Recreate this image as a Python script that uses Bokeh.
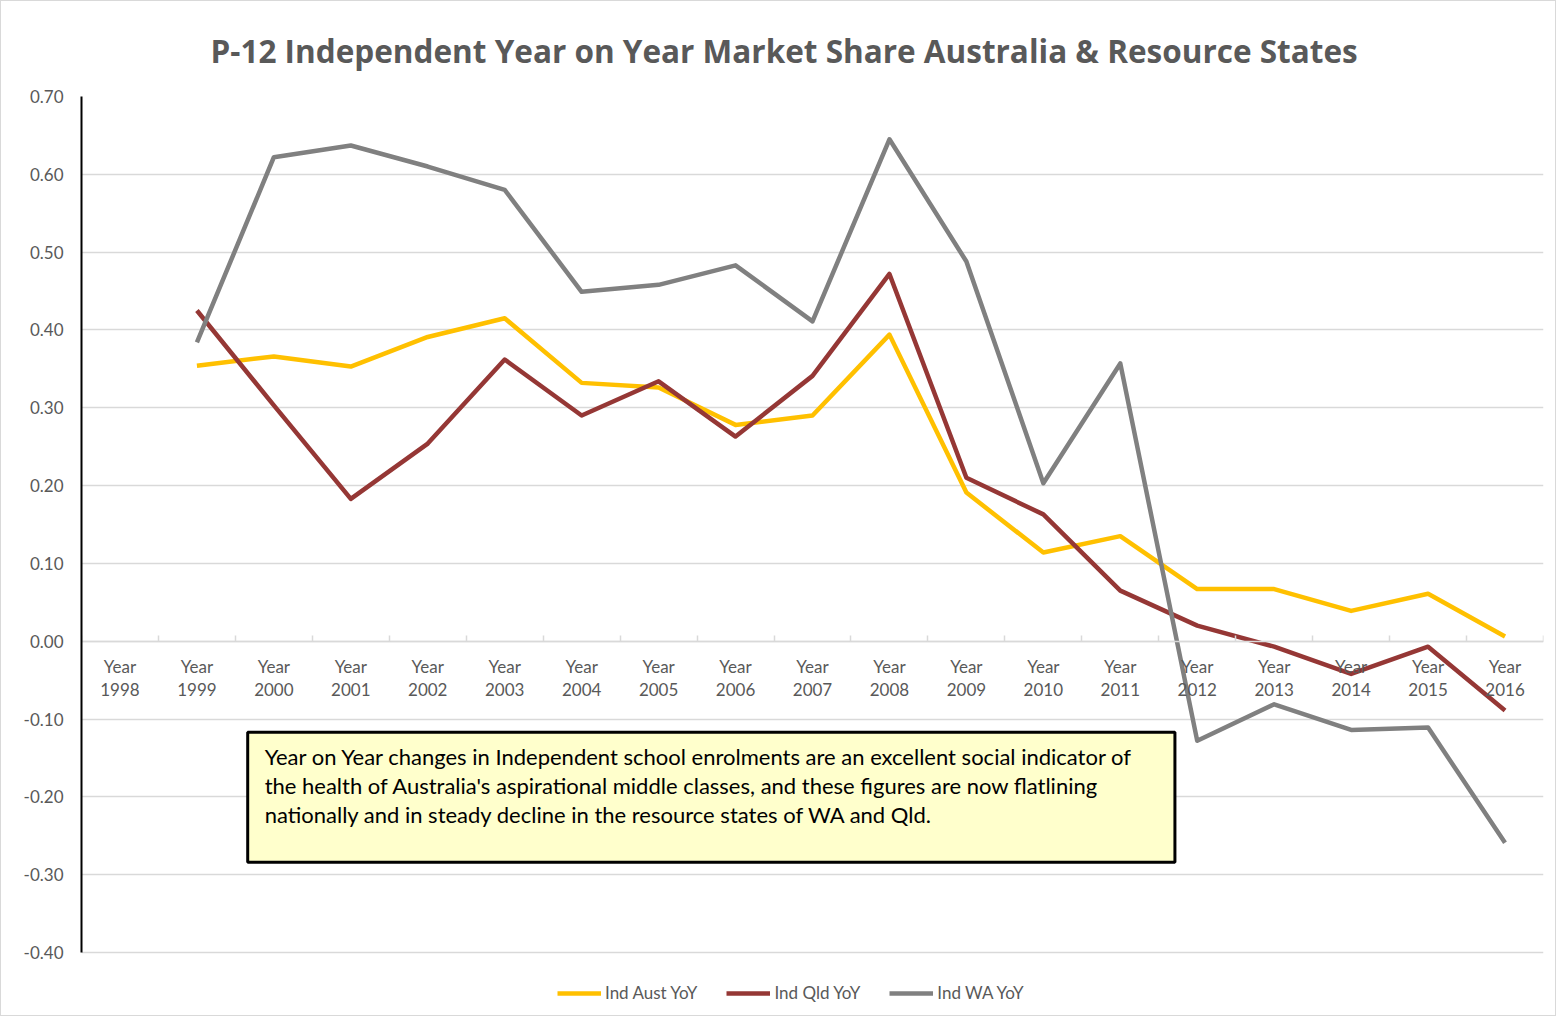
from bokeh.plotting import figure
from bokeh.models import (FixedTicker, Legend, LegendItem, BoxAnnotation, Label,
                          Range1d, NumeralTickFormatter, ColumnDataSource)
from bokeh.embed import file_html
from bokeh.resources import INLINE

# ---------------- data ----------------
years = [str(y) for y in range(1998, 2017)]
categories = ["Year " + y for y in years]
series_years = years[1:]  # 1999 .. 2016

ind_aust = [0.354, 0.366, 0.353, 0.391, 0.415, 0.332, 0.326, 0.278, 0.290,
            0.394, 0.191, 0.114, 0.135, 0.067, 0.067, 0.039, 0.061, 0.006]
ind_qld = [0.425, 0.303, 0.183, 0.254, 0.362, 0.290, 0.334, 0.263, 0.341,
           0.472, 0.210, 0.163, 0.065, 0.020, -0.007, -0.042, -0.007, -0.089]
ind_wa = [0.384, 0.622, 0.637, 0.610, 0.580, 0.449, 0.458, 0.483, 0.411,
          0.645, 0.488, 0.203, 0.357, -0.128, -0.081, -0.114, -0.111, -0.259]

series_names = ["Ind Aust YoY", "Ind Qld YoY", "Ind WA YoY"]
series_colors = ["#FFC000", "#953735", "#808080"]
y_ticks = [-0.4, -0.3, -0.2, -0.1, 0.0, 0.1, 0.2, 0.3, 0.4, 0.5, 0.6, 0.7]
y_min, y_max = -0.4, 0.7

title_text = "P-12 Independent Year on Year Market Share Australia & Resource States"
note_text = ("Year on Year changes in Independent school enrolments are an excellent social indicator of\n"
             "the health of Australia's aspirational middle classes, and these figures are now flatlining\n"
             "nationally and in steady decline in the resource states of WA and Qld.")

FONT = "Lato"
GRAY_TXT = "#595959"
GRID = "#d9d9d9"

x_idx = [categories.index("Year " + y) for y in series_years]

# the frame reaches below the value axis to hold the legend; the axis itself
# is bounded to [y_min, y_max]
px_per_unit = 856 / (y_max - y_min)
y_start = y_min - 60 / px_per_unit

p = figure(width=1556, height=1016, output_backend="svg", toolbar_location=None,
           x_range=Range1d(-0.5, len(categories) - 0.5), y_range=Range1d(y_start, y_max),
           min_border_left=80, min_border_right=14, min_border_top=95, min_border_bottom=5)
p.styles = {"border": "1px solid #d9d9d9"}
p.outline_line_color = None

# title
p.title.text = title_text
p.title.align = "left"
p.title.offset = 129
p.title.text_font = "Open Sans"
p.title.text_font_size = "31.5px"
p.title.text_font_style = "bold"
p.title.text_color = GRAY_TXT
p.title.standoff = 50

# x axis (categories, crossing at zero)
xa = p.xaxis[0]
xa.ticker = FixedTicker(ticks=list(range(len(categories))),
                        minor_ticks=[i - 0.5 for i in range(len(categories) + 1)])
xa.major_label_overrides = {i: c.replace(" ", "\n") for i, c in enumerate(categories)}
xa.fixed_location = 0
xa.axis_line_color = GRID
xa.axis_line_width = 1.5
xa.major_tick_line_color = None
xa.minor_tick_line_color = GRID
xa.minor_tick_line_width = 1.5
xa.minor_tick_in = 6
xa.minor_tick_out = 0
xa.major_label_standoff = 9
xa.major_label_text_font = FONT
xa.major_label_text_font_size = "17px"
xa.major_label_text_line_height = 1.1
xa.major_label_text_color = GRAY_TXT

# y axis
ya = p.yaxis[0]
ya.ticker = FixedTicker(ticks=y_ticks)
ya.bounds = (y_min, y_max)
ya.formatter = NumeralTickFormatter(format="0.00")
ya.axis_line_color = "black"
ya.axis_line_width = 2
ya.major_tick_line_color = None
ya.minor_tick_line_color = None
ya.major_label_standoff = 12
ya.major_label_text_font = FONT
ya.major_label_text_font_size = "17px"
ya.major_label_text_color = GRAY_TXT

p.xgrid.visible = False
p.ygrid.ticker = FixedTicker(ticks=y_ticks)
p.ygrid.bounds = (y_min, y_max)
p.ygrid.grid_line_color = GRID
p.ygrid.grid_line_width = 1.5

# text box
box = BoxAnnotation(left=1.66, right=13.71, top=-0.117, bottom=-0.284,
                    fill_color="#FFFFCC", fill_alpha=1.0,
                    line_color="black", line_alpha=1.0, line_width=3)
p.add_layout(box)
note = Label(x=1.88, y=-0.131, text=note_text, text_font=FONT, text_font_size="22px",
             text_color="black", text_baseline="top", text_align="left",
             text_line_height=1.08)
p.add_layout(note)

# lines
items = []
for name, col, vals in zip(series_names, series_colors, [ind_aust, ind_qld, ind_wa]):
    src = ColumnDataSource(dict(x=x_idx, y=vals))
    r = p.line("x", "y", source=src, line_color=col, line_width=4.5, line_join="round")
    items.append(LegendItem(label=name, renderers=[r]))

legend = Legend(items=items, orientation="horizontal", location=(476, 9),
                glyph_width=44, glyph_height=20, label_standoff=4, spacing=29,
                padding=0, margin=0, border_line_color=None, background_fill_alpha=0,
                label_text_font=FONT, label_text_font_size="17px",
                label_text_color=GRAY_TXT)
p.add_layout(legend)

open("out.html", "w").write(file_html(p, INLINE))
